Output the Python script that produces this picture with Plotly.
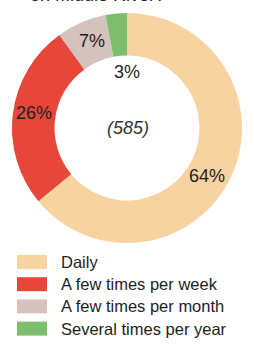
import math
import plotly.graph_objects as go

categories = ["Daily", "A few times per week", "A few times per month", "Several times per year"]
values = [64, 26, 7, 3]
colors = ["#F8D3A2", "#E6473A", "#D4C2BC", "#7DBE6E"]
center_label = "(585)"
title_text = "on Middle River?"

W, H = 254, 344
cx, cy = 127.5, 128.0  # pixel center (y from top)
R_out = 115.0
hole = 0.63

fig = go.Figure(go.Pie(
    labels=categories, values=values, sort=False, direction="clockwise", rotation=0,
    hole=hole, marker=dict(colors=colors, line=dict(width=0)),
    textinfo="none", hoverinfo="label+percent", showlegend=False,
    domain=dict(x=[0, 1], y=[(H - cy - R_out) / H, (H - cy + R_out) / H]),
))

annotations = []
shapes = []
FONT = "Liberation Sans, Arial"
# percent labels positioned from the data (mid-angle of each slice)
total = sum(values)
cum = 0
r_factors = [0.81, 0.82, 0.82, 0.49]
ang_offsets = [6, 2, 1.5, 4.5]
for v, rf, off in zip(values, r_factors, ang_offsets):
    mid = (cum + v / 2) / total * 360 + off
    cum += v
    r = R_out * rf
    px = cx + r * math.sin(math.radians(mid))
    py = cy - r * math.cos(math.radians(mid))
    annotations.append(dict(x=px / W, y=1 - py / H, xref="paper", yref="paper",
                            xanchor="center", yanchor="middle",
                            text=f"{round(v / total * 100)}%", showarrow=False,
                            font=dict(size=18, color="#1e1e1e", family=FONT)))

annotations.append(dict(x=cx / W, y=1 - cy / H, xref="paper", yref="paper", text=f"<i>{center_label}</i>",
                        xanchor="center", yanchor="middle",
                        showarrow=False, font=dict(size=18, color="#333333", family=FONT)))

annotations.append(dict(x=28 / W, y=1 + 5 / H, xref="paper", yref="paper", text=title_text,
                        xanchor="left", yanchor="middle", showarrow=False,
                        font=dict(size=18, color="#222222", family=FONT)))

# custom legend
for i, (cat, col) in enumerate(zip(categories, colors)):
    yc = 262 + i * 22.2
    shapes.append(dict(type="rect", xref="paper", yref="paper",
                       x0=17 / W, x1=47 / W, y0=1 - (yc + 7) / H, y1=1 - (yc - 7) / H,
                       fillcolor=col, line=dict(width=0)))
    annotations.append(dict(x=59 / W, y=1 - yc / H, xref="paper", yref="paper", text=cat,
                            xanchor="left", yanchor="middle", showarrow=False,
                            font=dict(size=16.5, color="#1e1e1e", family=FONT)))

fig.update_layout(width=W, height=H, margin=dict(l=0, r=0, t=0, b=0),
                  paper_bgcolor="white", plot_bgcolor="white",
                  annotations=annotations, shapes=shapes)
fig.write_html("out.html", config={"displayModeBar": False},
               post_script="document.body.style.margin='0';document.body.style.overflow='hidden';")
